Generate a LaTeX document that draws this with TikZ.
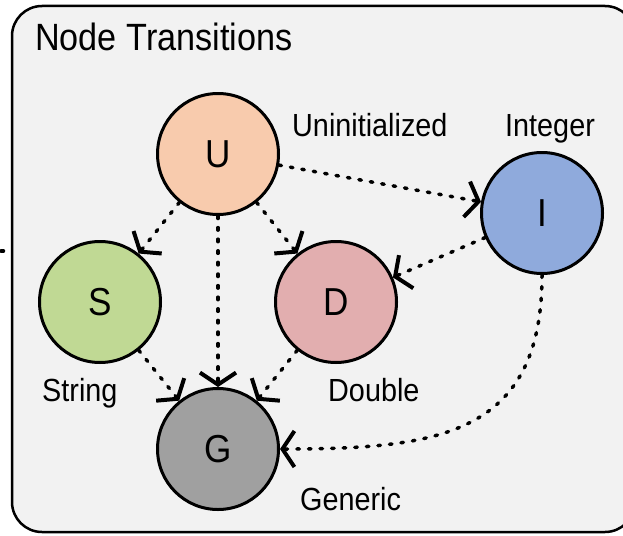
\documentclass[tikz,border=0pt]{standalone}
\usepackage{fontspec}
\setmainfont{Liberation Sans}[FakeStretch=0.9]
\usepackage{tikz}
\usetikzlibrary{arrows.meta}

\definecolor{boxgray}{HTML}{F2F2F2}
\definecolor{ucol}{HTML}{F8CBAD}
\definecolor{scol}{HTML}{C0D994}
\definecolor{dcol}{HTML}{E2AEAF}
\definecolor{icol}{HTML}{8FAADC}
\definecolor{gcol}{HTML}{A0A0A0}

\begin{document}
\begin{tikzpicture}[x=1pt,y=-1pt,
	state/.style={draw,circle,line width=3pt,minimum size=121pt,inner sep=0pt,font=\fontsize{39}{39}\selectfont},
	lbl/.style={anchor=base west,inner sep=0pt,font=\fontsize{32}{32}\selectfont},
	dots/.style={line width=3.5pt,line cap=round,dash pattern=on 2.5pt off 9.1pt},
	trans/.style={dots,-{Straight Barb[length=12pt,width=36pt,line width=4pt,line cap=butt]}}]
				\useasboundingbox (0,0) rectangle (623,535);
				\clip (0,0) rectangle (623,535);
				%% outer box with its title
				\node (box) [draw,fill=boxgray,line width=2.5pt,rounded corners=30pt,minimum width=623pt,minimum height=526pt,inner sep=0pt] at (323.5,269){};
				\node (title) [anchor=base west,inner sep=0pt,font=\fontsize{38}{38}\selectfont] at (35,51){Node Transitions};
				%% state circles placed by hand
				\foreach \n/\x/\y/\c in {U/218/154/ucol,S/100/302/scol,D/336/302/dcol,I/542/213/icol,G/218/449/gcol}{
					\node (\n) [state,fill=\c] at (\x,\y){\n};
					}
				%% names next to the circles
				\node (lu) [lbl] at (292,136){Uninitialized};
				\node (li) [lbl] at (505,136){Integer};
				\node (ls) [lbl] at (42,401){String};
				\node (ld) [lbl] at (328,401){Double};
				\node (lg) [lbl] at (300,510){Generic};
				%% incoming line on the left
				\coordinate (entry) at (0,251);
				\coordinate (boxin) at (12,251);
				\draw [dots,dash phase=-1pt](entry) -- (boxin);
				%% transitions
				\draw [trans](U) -- (S);
				\draw [trans](U) -- (G);
				\draw [trans](U) -- (D);
				\draw [trans](U) -- (I);
				\draw [trans](I) -- (D);
				\draw [trans](S) -- (G);
				\draw [trans](D) -- (G);
				\draw [trans](I) to[out=-90,in=0,looseness=1.3] (G);

				\end{tikzpicture}
\end{document}
